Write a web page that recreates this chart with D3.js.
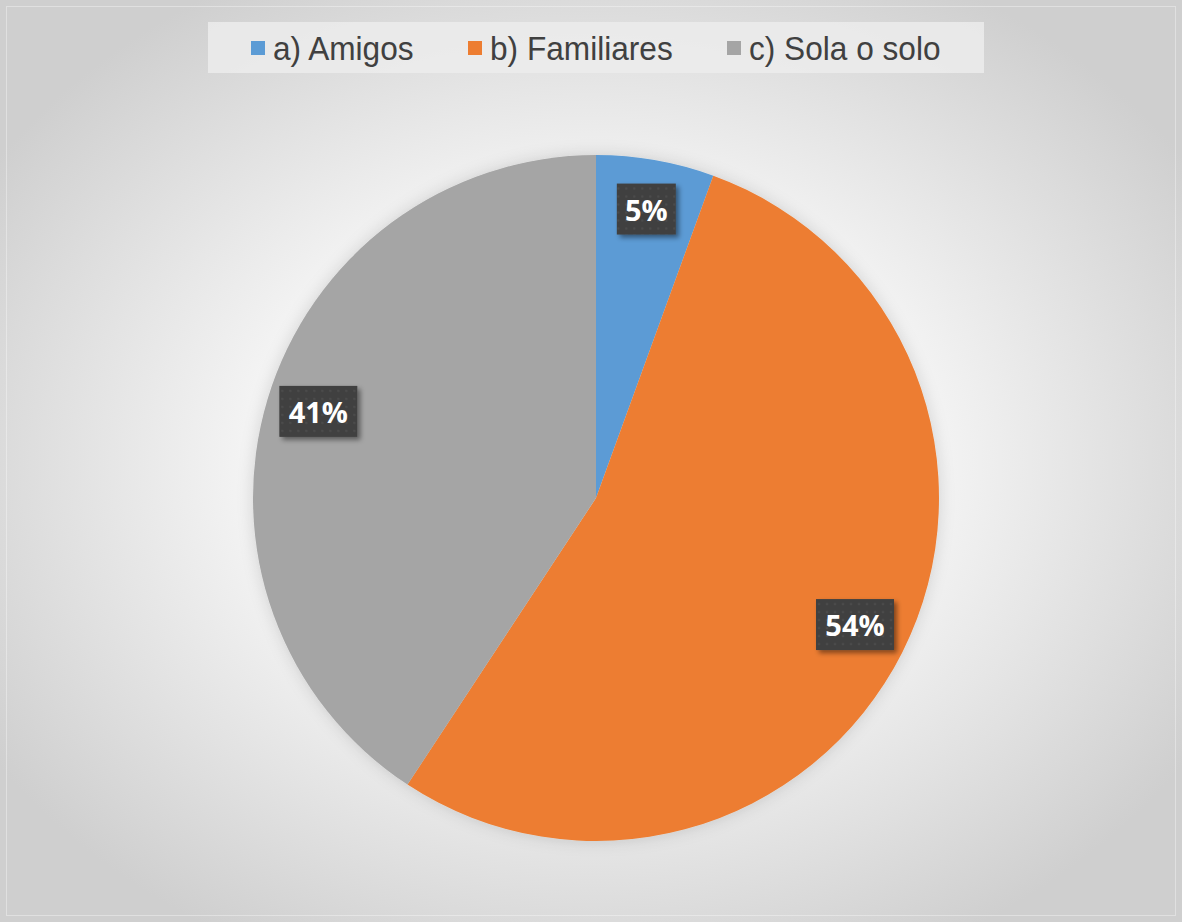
<!DOCTYPE html>
<html>
<head>
<meta charset="utf-8">
<script src="https://cdn.jsdelivr.net/npm/d3@7"></script>
<style>
  body { margin: 0; background: #fff; }
</style>
</head>
<body>
<script>
var categories = ["a) Amigos", "b) Familiares", "c) Sola o solo"];
var values = [3, 29, 22];
var labels = ["5%", "54%", "41%"];
var colors = ["#5b9bd5", "#ed7d31", "#a5a5a5"];

var width = 1182, height = 922;
var cx = 596, cy = 498, radius = 343;

var svg = d3.select("body")
            .append("svg")
            .attr("width", width)
            .attr("height", height);

var defs = svg.append("defs");

var bg = defs.append("radialGradient")
             .attr("id", "bg")
             .attr("cx", "50%").attr("cy", "50%").attr("r", "60%");
bg.append("stop").attr("offset", "0%").attr("stop-color", "#ffffff");
bg.append("stop").attr("offset", "45%").attr("stop-color", "#f6f6f6");
bg.append("stop").attr("offset", "100%").attr("stop-color", "#cfcfcf");

var pat = defs.append("pattern")
              .attr("id", "dots")
              .attr("width", 8).attr("height", 8)
              .attr("patternUnits", "userSpaceOnUse");
pat.append("rect").attr("width", 8).attr("height", 8).attr("fill", "#404040");
pat.append("circle").attr("cx", 4).attr("cy", 4).attr("r", 1.3).attr("fill", "#4b4b4b");

var sh = defs.append("filter").attr("id", "shadow")
             .attr("x", "-20%").attr("y", "-20%").attr("width", "150%").attr("height", "150%");
sh.append("feDropShadow").attr("dx", 3).attr("dy", 3).attr("stdDeviation", 2.5)
  .attr("flood-color", "#000").attr("flood-opacity", 0.45);

var glow = defs.append("filter").attr("id", "glow")
               .attr("x", "-20%").attr("y", "-20%").attr("width", "140%").attr("height", "140%");
glow.append("feDropShadow").attr("dx", 0).attr("dy", 0).attr("stdDeviation", 8)
    .attr("flood-color", "#000").attr("flood-opacity", 0.15);

svg.append("rect")
   .attr("width", width).attr("height", height)
   .attr("fill", "url(#bg)");

svg.append("rect")
   .attr("x", 6.5).attr("y", 6.5)
   .attr("width", width - 13).attr("height", height - 13)
   .attr("fill", "none")
   .attr("stroke", "#ffffff")
   .attr("stroke-opacity", 0.35);

// legend
var legend = svg.append("g");
legend.append("rect")
      .attr("x", 208).attr("y", 22)
      .attr("width", 776).attr("height", 51)
      .attr("fill", "#ececec").attr("fill-opacity", 0.85);

var legendX = [251, 468, 727];
var items = legend.selectAll("g.item")
                  .data(categories)
                  .enter()
                  .append("g")
                  .attr("class", "item")
                  .attr("transform", function(d, i) { return "translate(" + legendX[i] + ",0)"; });
items.append("rect")
     .attr("x", 0).attr("y", 41)
     .attr("width", 14).attr("height", 14)
     .attr("fill", function(d, i) { return colors[i]; });
items.append("text")
     .attr("transform", "translate(22,60) scale(0.93,1)")
     .attr("font-family", "'Liberation Sans', Arial, sans-serif")
     .attr("font-size", 34)
     .attr("fill", "#404040")
     .text(function(d) { return d; });

// pie
var pie = d3.pie().sort(null).value(function(d) { return d; });
var arc = d3.arc().innerRadius(0).outerRadius(radius);
var labelArc = d3.arc().innerRadius(radius * 0.845).outerRadius(radius * 0.845);

var g = svg.append("g").attr("transform", "translate(" + cx + "," + cy + ")");
var arcs = pie(values);

g.append("g").attr("filter", "url(#glow)")
 .selectAll("path")
 .data(arcs)
 .enter()
 .append("path")
 .attr("d", arc)
 .attr("fill", function(d, i) { return colors[i]; });

var lab = g.selectAll("g.lab")
           .data(arcs)
           .enter()
           .append("g")
           .attr("class", "lab")
           .attr("transform", function(d) {
             var c = labelArc.centroid(d);
             return "translate(" + c[0] + "," + (c[1] - 4) + ")";
           });

var boxW = [59, 78, 78];
lab.append("rect")
   .attr("x", function(d, i) { return -boxW[i] / 2; })
   .attr("y", -25)
   .attr("width", function(d, i) { return boxW[i]; })
   .attr("height", 51)
   .attr("fill", "url(#dots)")
   .attr("filter", "url(#shadow)");
lab.append("text")
   .attr("text-anchor", "middle")
   .attr("y", 12)
   .attr("font-family", "'Open Sans', sans-serif")
   .attr("font-weight", "bold")
   .attr("font-size", 29)
   .attr("fill", "#fff")
   .text(function(d, i) { return labels[i]; });
</script>
</body>
</html>
